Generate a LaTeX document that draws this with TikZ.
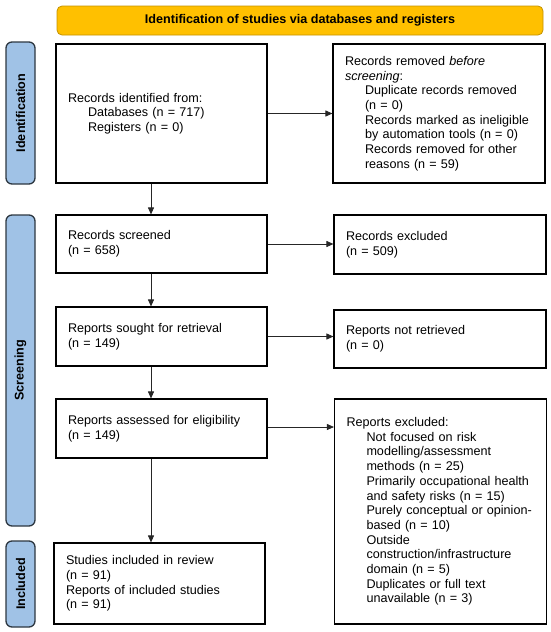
\documentclass[tikz,border=0pt]{standalone}
\usepackage{fontspec}
\setmainfont{Liberation Sans}
\usetikzlibrary{arrows.meta, positioning, calc}
\definecolor{bannergold}{RGB}{255,192,0}
\definecolor{bannerline}{RGB}{196,146,0}
\definecolor{phaseblue}{RGB}{160,194,230}
\definecolor{phaseline}{RGB}{45,55,65}
\newcommand{\ind}{\hspace*{20pt}}

\begin{document}
\begin{tikzpicture}[x=1pt, y=-1pt,
  font=\fontsize{12.6}{14.7}\selectfont,
  flowbox/.style={draw=black, line width=1.1pt, fill=white, inner xsep=12pt, inner ysep=3pt, align=left},
  leftbox/.style={flowbox, minimum width=211pt, text width=187pt},
  rightbox/.style={flowbox, minimum width=212pt, text width=188pt},
  phase/.style={draw=phaseline, fill=phaseblue, line width=1.3pt, rounded corners=6pt, rotate=90, font=\fontsize{12.6}{14.7}\selectfont\bfseries, inner sep=0pt, minimum height=29pt},
  flow/.style={-{Triangle[length=7pt,width=6pt]}, line width=0.8pt, draw=black!85}]
  \useasboundingbox (0,0) rectangle (550,632);

  % header
  \node[draw=bannerline, fill=bannergold, rounded corners=5pt, line width=0.8pt, minimum width=486pt, minimum height=29pt, inner sep=0pt, font=\fontsize{12.6}{14.7}\selectfont\bfseries] (banner) at (300,20.5) {Identification of studies via databases and registers};

  % phases
  \node[phase, minimum width=142pt] (identlab) at (20.5,113) {Identification};
  \node[phase, minimum width=311pt] (screenlab) at (20.5,370.5) {Screening};
  \node[phase, minimum width=86pt] (incllab) at (20.5,584) {Included};

  % left column
  \node[leftbox, minimum height=139pt] (identified) at (161.5,113.5) {
    Records identified from:\\
    \ind Databases (n = 717)\\
    \ind Registers (n = 0)};
  \node[leftbox, minimum height=58pt] (screened) at (161.5,244) {
    Records screened\\
    (n = 658)};
  \node[leftbox, minimum height=59pt] (sought) at (161.5,336.5) {
    Reports sought for retrieval\\
    (n = 149)};
  \node[leftbox, minimum height=59pt] (assessed) at (161.5,428.5) {
    Reports assessed for eligibility\\
    (n = 149)};
  \node[leftbox, minimum height=81pt] (included) at (159.5,583.5) {
    Studies included in review\\
    (n = 91)\\
    Reports of included studies\\
    (n = 91)};

  % right column
  \node[rightbox, minimum height=139pt] (removed) at (439,113.5) {
    Records removed \textit{before}\\
    \textit{screening}:\\
    \ind Duplicate records removed\\
    \ind (n = 0)\\
    \ind Records marked as ineligible\\
    \ind by automation tools (n = 0)\\
    \ind Records removed for other\\
    \ind reasons (n = 59)};
  \node[rightbox, minimum height=59pt] (excluded) at (440,244.5) {
    Records excluded\\
    (n = 509)};
  \node[rightbox, minimum height=58pt] (notretrieved) at (440,339) {
    Reports not retrieved\\
    (n = 0)};
  \node[rightbox, minimum height=225pt] (reportsexcl) at (440.5,511.5) {
    Reports excluded:\\
    \ind Not focused on risk\\
    \ind modelling/assessment\\
    \ind methods (n = 25)\\
    \ind Primarily occupational health\\
    \ind and safety risks (n = 15)\\
    \ind Purely conceptual or opinion-\\
    \ind based (n = 10)\\
    \ind Outside\\
    \ind construction/infrastructure\\
    \ind domain (n = 5)\\
    \ind Duplicates or full text\\
    \ind unavailable (n = 3)};

  % connectors
  \draw[flow] ([xshift=-10.5pt]identified.south) -- ([xshift=-10.5pt]identified.south |- screened.north);
  \draw[flow] ([xshift=-10.5pt]screened.south) -- ([xshift=-10.5pt]screened.south |- sought.north);
  \draw[flow] ([xshift=-10.5pt]sought.south) -- ([xshift=-10.5pt]sought.south |- assessed.north);
  \draw[flow] ([xshift=-10.5pt]assessed.south) -- ([xshift=-10.5pt]assessed.south |- included.north);
  \draw[flow] (identified.east) -- (identified.east -| removed.west);
  \draw[flow] (screened.east) -- (screened.east -| excluded.west);
  \draw[flow] (sought.east) -- (sought.east -| notretrieved.west);
  \draw[flow] ([yshift=1.5pt]assessed.east) -- ([yshift=1.5pt]assessed.east -| reportsexcl.west);
\end{tikzpicture}
\end{document}
